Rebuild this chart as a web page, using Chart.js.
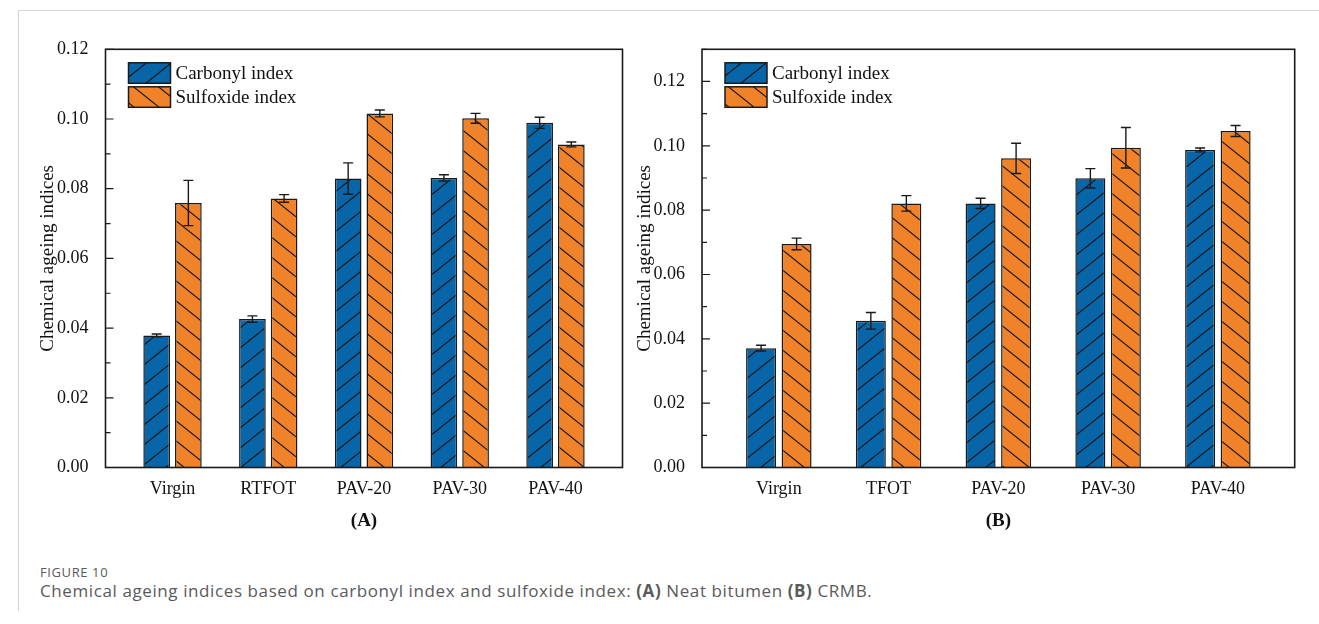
<!DOCTYPE html>
<html>
<head>
<meta charset="utf-8">
<script src="https://cdn.jsdelivr.net/npm/chart.js@4.4.0/dist/chart.umd.min.js"></script>
<style>
  body{margin:0;background:#fff;width:1319px;height:624px;position:relative;overflow:hidden;}
  #frame{position:absolute;left:18px;top:10px;width:1301px;height:600px;border-top:1px solid #d4d4d4;border-left:1px solid #d4d4d4;}
  #cA{position:absolute;left:0;top:0;}
  #cB{position:absolute;left:620px;top:0;}
  .fig{position:absolute;left:40px;top:563px;font:13px 'Open Sans',sans-serif;letter-spacing:0.6px;color:#5a5a5a;}
  .cap{position:absolute;left:40px;top:579px;font:17px 'Open Sans',sans-serif;letter-spacing:0.6px;color:#5a5a5a;}
  .cap b{font-weight:700;}
</style>
</head>
<body>
<div id="frame"></div>
<canvas id="cA" width="660" height="540"></canvas>
<canvas id="cB" width="699" height="540"></canvas>
<div class="fig">FIGURE 10</div>
<div class="cap">Chemical ageing indices based on carbonyl index and sulfoxide index: <b>(A)</b> Neat bitumen <b>(B)</b> CRMB.</div>
<script>
// (A) Neat bitumen
const labelsA = ['Virgin', 'RTFOT', 'PAV-20', 'PAV-30', 'PAV-40'];
const carbonylA = [0.0379, 0.0426, 0.0829, 0.0831, 0.0989];
const carbonylErrA = [0.0004, 0.0009, 0.0045, 0.0009, 0.0016];
const sulfoxideA = [0.0759, 0.0772, 0.1016, 0.1002, 0.0927];
const sulfoxideErrA = [0.0065, 0.0011, 0.0010, 0.0014, 0.0007];

// (B) CRMB
const labelsB = ['Virgin', 'TFOT', 'PAV-20', 'PAV-30', 'PAV-40'];
const carbonylB = [0.0371, 0.0456, 0.0821, 0.0899, 0.0987];
const carbonylErrB = [0.0009, 0.0026, 0.0016, 0.0030, 0.0006];
const sulfoxideB = [0.0695, 0.0821, 0.0961, 0.0994, 0.1046];
const sulfoxideErrB = [0.0018, 0.0024, 0.0047, 0.0063, 0.0017];

const SERIF = "'Liberation Serif', 'Times New Roman', serif";
Chart.defaults.font.family = SERIF;
Chart.defaults.color = '#111';

// diagonal hatch pattern; dir 1 = '/', -1 = '\'
function hatch(color, dir){
  const w = 25, h = 20;
  const c = document.createElement('canvas');
  c.width = w; c.height = h;
  const g = c.getContext('2d');
  g.fillStyle = color; g.fillRect(0, 0, w, h);
  g.strokeStyle = '#151515'; g.lineWidth = 1.1;
  g.beginPath();
  for (const k of [-1, 0, 1]) {
    if (dir > 0) { g.moveTo(-2, h + k*h + 2*h/w); g.lineTo(w + 2, k*h - 2*h/w); }
    else { g.moveTo(-2, k*h - 2*h/w); g.lineTo(w + 2, h + k*h + 2*h/w); }
  }
  g.stroke();
  return g.createPattern(c, 'repeat');
}

// box frame + inward ticks on the left axis
const framePlugin = {
  id: 'framePlugin',
  afterDraw(chart){
    const {ctx, chartArea: a} = chart;
    const y = chart.scales.y;
    ctx.save();
    ctx.strokeStyle = '#1a1a1a';
    ctx.lineWidth = 1.2;
    ctx.beginPath();
    const vals = y.ticks.map(t => t.value);
    vals.forEach((v, i) => {
      const p = y.getPixelForValue(v);
      ctx.moveTo(a.left, p); ctx.lineTo(a.left + 8, p);
      const mid = i < vals.length - 1 ? (v + vals[i+1]) / 2 : v + (v - vals[i-1]) / 2;
      if (mid <= y.max + 1e-9) {
        const pm = y.getPixelForValue(mid);
        ctx.moveTo(a.left, pm); ctx.lineTo(a.left + 5, pm);
      }
    });
    ctx.stroke();
    ctx.lineWidth = 1.6;
    ctx.strokeRect(a.left, a.top, a.right - a.left, a.bottom - a.top);
    ctx.restore();
  }
};

const errorBars = {
  id: 'errorBars',
  afterDatasetsDraw(chart){
    const ctx = chart.ctx, y = chart.scales.y;
    ctx.save();
    ctx.strokeStyle = '#1a1a1a';
    ctx.lineWidth = 1.4;
    chart.data.datasets.forEach((ds, i) => {
      chart.getDatasetMeta(i).data.forEach((bar, j) => {
        const v = ds.data[j].y, e = ds.errors[j];
        const t = y.getPixelForValue(v + e), b = y.getPixelForValue(v - e);
        ctx.beginPath();
        ctx.moveTo(bar.x, t); ctx.lineTo(bar.x, b);
        ctx.moveTo(bar.x - 5, t); ctx.lineTo(bar.x + 5, t);
        ctx.moveTo(bar.x - 5, b); ctx.lineTo(bar.x + 5, b);
        ctx.stroke();
      });
    });
    ctx.restore();
  }
};

const boxLegend = {
  id: 'boxLegend',
  afterDraw(chart){
    const {ctx, chartArea: a} = chart;
    chart.data.datasets.forEach((ds, i) => {
      const x = a.left + 23, y = a.top + 13.5 + i * 24;
      ctx.save();
      ctx.fillStyle = ds.backgroundColor;
      ctx.fillRect(x, y, 42, 20.5);
      ctx.strokeStyle = '#1a1a1a'; ctx.lineWidth = 1.5;
      ctx.strokeRect(x, y, 42, 20.5);
      ctx.fillStyle = '#111';
      ctx.font = '19px ' + SERIF;
      ctx.textBaseline = 'middle';
      ctx.fillText(ds.label, x + 47, y + 11);
      ctx.restore();
    });
  }
};

function makeChart(id, labels, carb, carbErr, sulf, sulfErr, yMax, panel, L){
  const pts = arr => arr.map((v, i) => ({x: i + 1, y: v}));
  return new Chart(document.getElementById(id), {
    type: 'bar',
    data: {
      datasets: [
        {label: 'Carbonyl index', data: pts(carb), errors: carbErr,
         backgroundColor: hatch('#0765a8', 1), borderColor: '#1a1a1a', borderWidth: 1.5,
         categoryPercentage: L.cat, barPercentage: L.bar},
        {label: 'Sulfoxide index', data: pts(sulf), errors: sulfErr,
         backgroundColor: hatch('#f0822a', -1), borderColor: '#1a1a1a', borderWidth: 1.5,
         categoryPercentage: L.cat, barPercentage: L.bar}
      ]
    },
    options: {
      responsive: false,
      animation: false,
      layout: {padding: {left: 0, top: 49.3, right: L.right, bottom: 7.6}},
      plugins: {legend: {display: false}, tooltip: {enabled: false}},
      scales: {
        x: {
          type: 'linear', min: 0.3, max: 5.7, offset: false,
          grid: {display: false, offset: false}, border: {display: false},
          afterBuildTicks: s => { s.ticks = labels.map((_, i) => ({value: i + 1})); },
          afterFit: s => { s.height = 64.9; },
          ticks: {autoSkip: false, maxRotation: 0, padding: 3, font: {size: 18}, color: '#111',
                  callback: v => labels[v - 1]},
          title: {display: true, text: panel, font: {size: 19, weight: 'bold'}, color: '#111',
                  padding: {top: 0, bottom: 0}}
        },
        y: {
          min: 0, max: yMax,
          grid: {display: false}, border: {display: false},
          afterFit: s => { s.width = L.axisW; },
          ticks: {stepSize: 0.02, includeBounds: false, padding: 9, font: {size: 18}, color: '#111',
                  callback: v => v.toFixed(2)},
          title: {display: true, text: 'Chemical ageing indices', font: {size: 19}, color: '#111',
                  padding: {top: L.titlePad, bottom: 0}}
        }
      }
    },
    plugins: [errorBars, framePlugin, boxLegend]
  });
}

makeChart('cA', labelsA, carbonylA, carbonylErrA, sulfoxideA, sulfoxideErrA, 0.12, '(A)',
  {axisW: 105.5, right: 37.5, titlePad: 36.6, cat: 0.662, bar: 0.842});
makeChart('cB', labelsB, carbonylB, carbonylErrB, sulfoxideB, sulfoxideErrB, 0.13, '(B)',
  {axisW: 82, right: 24.3, titlePad: 13.6, cat: 0.647, bar: 0.845});
</script>
</body>
</html>
